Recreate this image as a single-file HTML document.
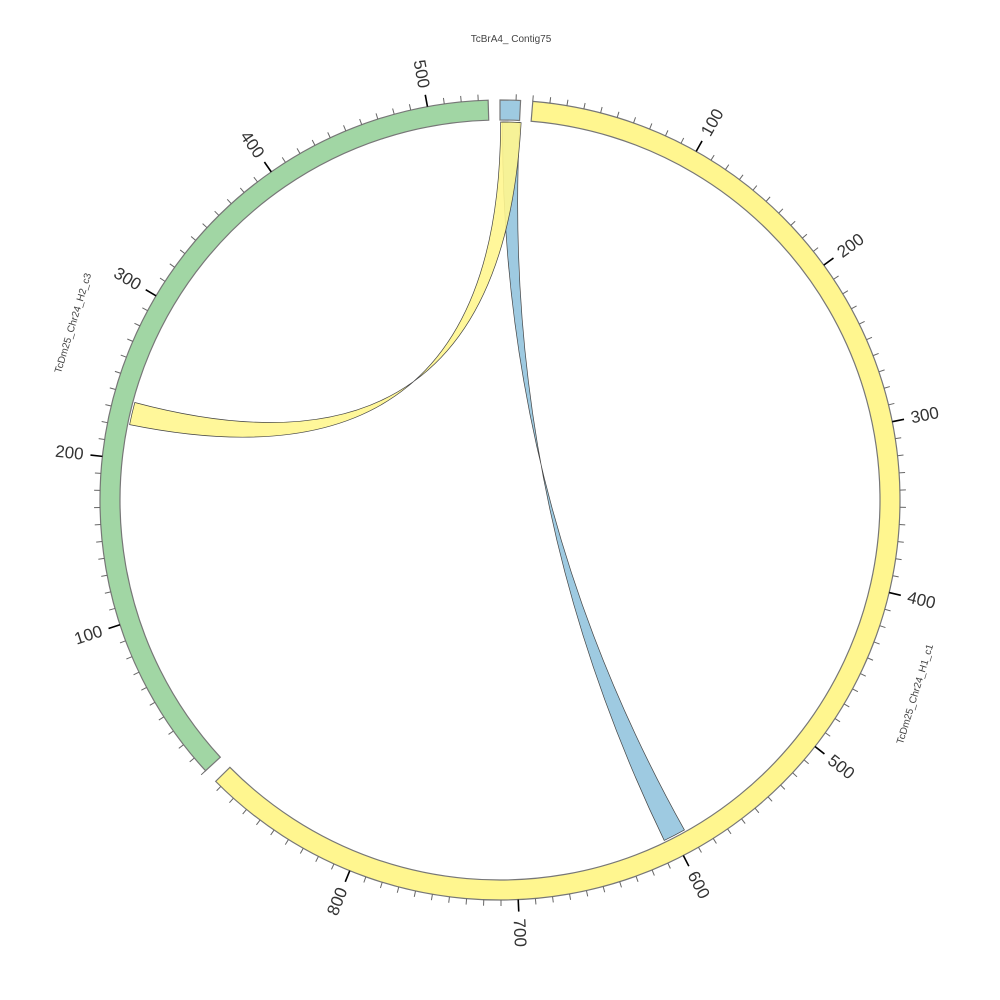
<!DOCTYPE html>
<html><head><meta charset="utf-8"><style>html,body{margin:0;padding:0;background:#fff}svg{display:block}text{font-family:"Liberation Sans","DejaVu Sans",sans-serif}</style></head>
<body>
<svg id="s" width="1000" height="1000" viewBox="0 0 1000 1000" xmlns="http://www.w3.org/2000/svg"></svg>
<script>
const S=document.getElementById('s');const cx=500,cy=500,R0=380,R1=400;
function P(r,t){const a=t*Math.PI/180;return [cx+r*Math.sin(a),cy-r*Math.cos(a)];}
function f(p){return p[0].toFixed(2)+','+p[1].toFixed(2);}
let h='';
function seg(a0,a1,fill){const la=(a1-a0)>180?1:0;
h+=`<path d="M${f(P(R1,a0))} A${R1},${R1} 0 ${la} 1 ${f(P(R1,a1))} L${f(P(R0,a1))} A${R0},${R0} 0 ${la} 0 ${f(P(R0,a0))} Z" fill="${fill}" stroke="#777" stroke-width="1.2"/>`;}
function ribbon(a0,a1,b0,b1,fill,op){const r=378;
h+=`<path d="M${f(P(r,a0))} A${r},${r} 0 0 1 ${f(P(r,a1))} Q${cx},${cy} ${f(P(r,b1))} A${r},${r} 0 0 0 ${f(P(r,b0))} Q${cx},${cy} ${f(P(r,a0))} Z" fill="${fill}" fill-opacity="${op}" stroke="#444" stroke-width="0.7"/>`;}
function ticks(start,scale,len){
for(let u=0;u<=len;u+=10){const t=start+u*scale;const maj=u%100==0&&u>0;
const p0=P(R1,t),p1=P(R1+(maj?12:6),t);
h+=`<line x1="${p0[0].toFixed(2)}" y1="${p0[1].toFixed(2)}" x2="${p1[0].toFixed(2)}" y2="${p1[1].toFixed(2)}" stroke="${maj?'#000':'#666'}" stroke-width="${maj?1.6:1}"/>`;
if(maj){const q=P(R1+19,t);let rot,anc;if(t<180){rot=t-90;anc='start';}else{rot=t-270;anc='end';}
h+=`<text x="${q[0].toFixed(2)}" y="${q[1].toFixed(2)}" font-size="17" fill="#333" text-anchor="${anc}" dominant-baseline="central" transform="rotate(${rot.toFixed(2)} ${q[0].toFixed(2)} ${q[1].toFixed(2)})">${u}</text>`;}}}
seg(4.7,225.3,'#fff68f');
seg(227.4,358.3,'#a1d6a4');
seg(0,2.95,'#9ecae1');
ticks(4.7,0.2467,894);
ticks(227.4,0.2443,535);
{const p0=P(R1,2.3),p1=P(R1+6,2.3);h+=`<line x1="${p0[0]}" y1="${p0[1]}" x2="${p1[0]}" y2="${p1[1]}" stroke="#666"/>`;}
ribbon(0.4,3.0,150.8,154.25,'#9ecae1',1);
ribbon(0.1,3.2,281.5,284.95,'#fff68f',0.9);
h+=`<text x="511" y="42" font-size="10" fill="#444" text-anchor="middle">TcBrA4_ Contig75</text>`;
h+=`<text x="0" y="0" font-size="10" fill="#444" text-anchor="middle" transform="translate(76,324) rotate(-73)">TcDm25_Chr24_H2_c3</text>`;
h+=`<text x="0" y="0" font-size="10" fill="#444" text-anchor="middle" transform="translate(918,695) rotate(-73)">TcDm25_Chr24_H1_c1</text>`;
S.innerHTML=h;
</script>
</body></html>
